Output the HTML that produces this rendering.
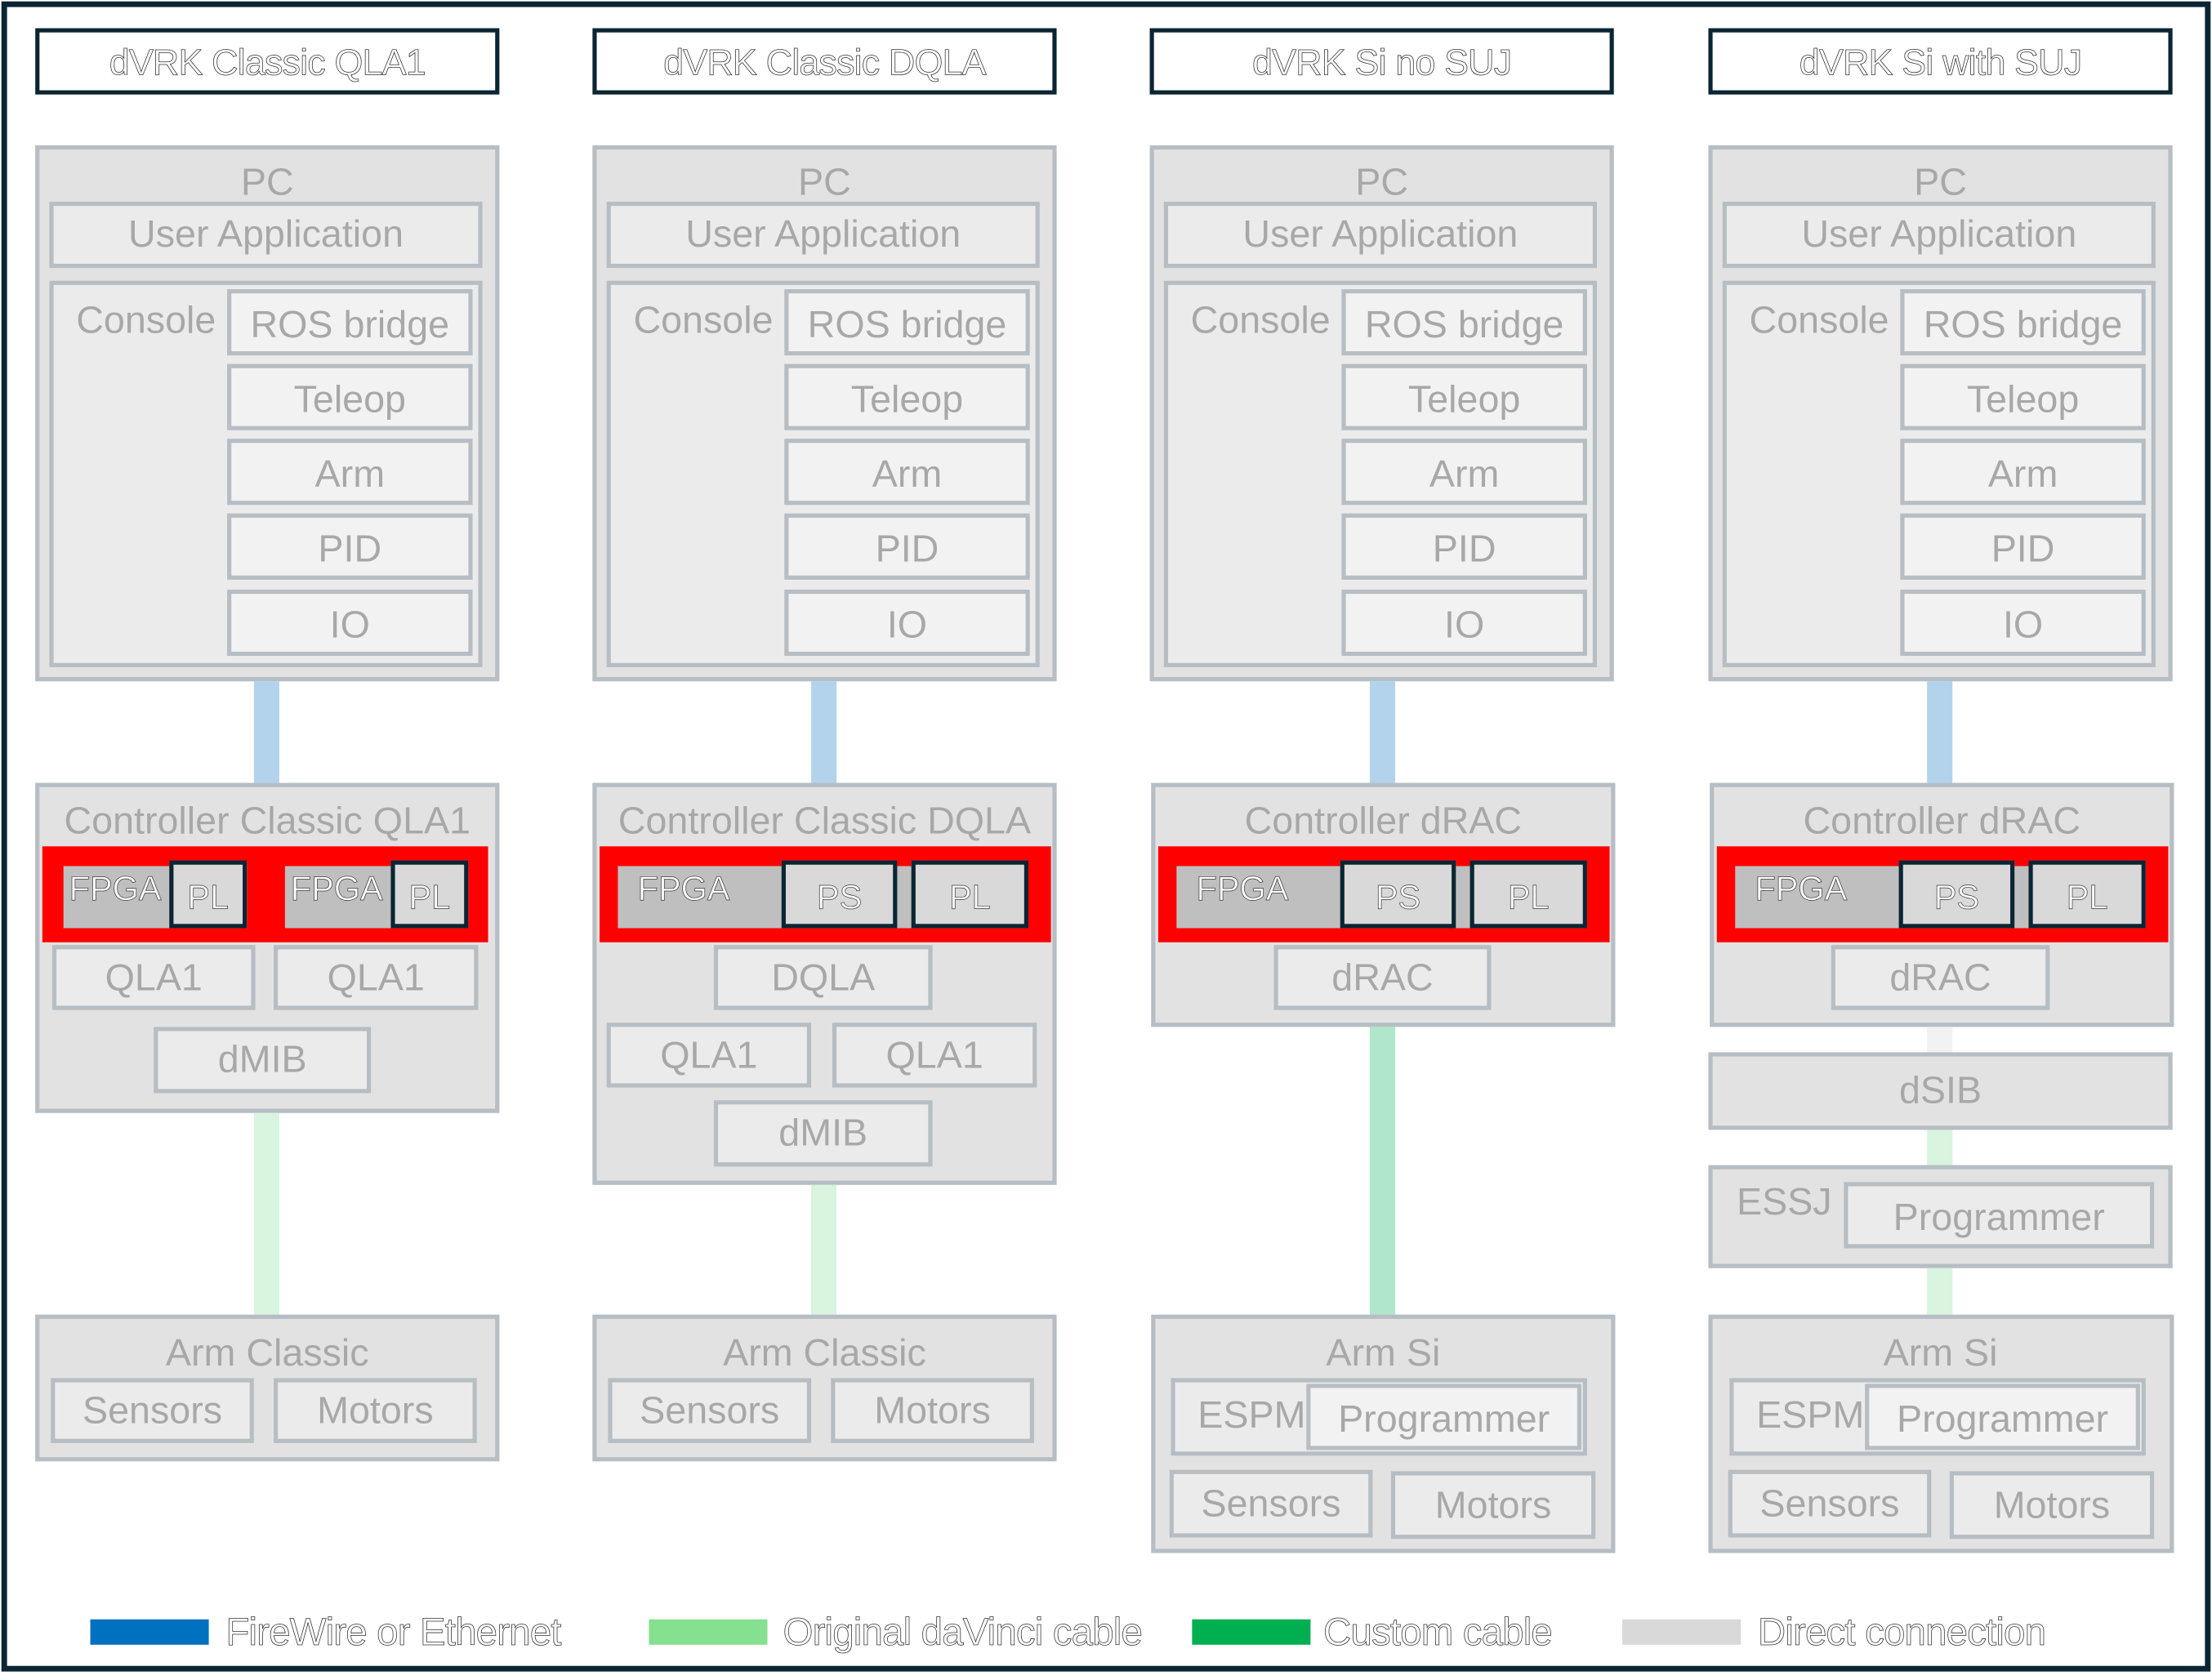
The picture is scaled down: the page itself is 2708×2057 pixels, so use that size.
<!DOCTYPE html>
<html><head><meta charset="utf-8"><style>
html,body{margin:0;padding:0;background:#fff;}
body{width:2708px;height:2057px;overflow:hidden;position:relative;}
#s{position:absolute;left:0;top:0;width:1568px;height:1191px;transform:scale(1.72704,1.72712);transform-origin:0 0;font-family:"Liberation Sans",sans-serif;}
#s div{position:absolute;box-sizing:border-box;}
.o{left:1px;top:1px;width:1566px;height:1184px;border:4px solid #0b2533;}
.c{width:329px;height:1100px;top:0;}
.t{border:3px solid #0b2533;background:#fff;display:flex;align-items:center;justify-content:center;font-size:26px;color:#fff;-webkit-text-stroke:0.45px #333;letter-spacing:-0.5px;padding-top:2px;}
.b{border:3px solid #b6bec4;display:flex;align-items:center;justify-content:center;color:#a8a8a8;font-size:27px;white-space:nowrap;}
.g1{background:#e2e2e2;}
.g2{background:#ebebeb;}
.g3{background:#f2f2f2;}
.l{color:#a8a8a8;font-size:27px;white-space:nowrap;line-height:1;}
.red{background:#ff0000;}
.fp{background:#bfbfbf;color:#fff;-webkit-text-stroke:0.4px #333;font-size:24px;line-height:1;padding:5px 0 0 4px;}
.pk{border:3px solid #0b2533;background:#d9d9d9;color:#fff;-webkit-text-stroke:0.4px #333;font-size:24px;display:flex;align-items:center;justify-content:center;padding-top:6px;}
.lg{height:18px;top:1148px;width:84px;}
.lt{top:1142px;font-size:27.5px;color:#fff;-webkit-text-stroke:0.45px #333;white-space:nowrap;line-height:1.1;letter-spacing:-0.5px;}
</style></head><body><div id="s">
<div class="o"></div>

<!-- Column 1 -->
<div class="c" style="left:25px">
 <div class="t" style="left:0;top:20px;width:329px;height:47px">dVRK Classic QLA1</div>
 <div class="b g1" style="left:0;top:103px;width:329px;height:380px"></div>
 <div class="l" style="left:0;width:329px;top:116px;text-align:center">PC</div>
 <div class="b g2" style="left:10px;top:143px;width:307px;height:47px">User Application</div>
 <div class="b g2" style="left:10px;top:199px;width:307px;height:274px"></div>
 <div class="l" style="left:29px;top:214px">Console</div>
 <div class="b g3" style="left:136px;top:205px;width:174px;height:47px;padding-top:4px">ROS bridge</div>
 <div class="b g3" style="left:136px;top:258px;width:174px;height:47px;padding-top:4px">Teleop</div>
 <div class="b g3" style="left:136px;top:311px;width:174px;height:47px;padding-top:4px">Arm</div>
 <div class="b g3" style="left:136px;top:364px;width:174px;height:47px;padding-top:4px">PID</div>
 <div class="b g3" style="left:136px;top:418px;width:174px;height:47px;padding-top:4px">IO</div>
 <div style="left:155px;top:483px;width:18px;height:72px;background:#b3d3ec"></div>
 <div class="b g1" style="left:0;top:555px;width:329px;height:234px"></div>
 <div class="l" style="left:0;width:329px;top:569px;text-align:center">Controller Classic QLA1</div>
 <div class="red" style="left:5px;top:600px;width:316px;height:68px"></div>
 <div class="fp" style="left:20px;top:614px;width:130px;height:44px">FPGA</div>
 <div class="pk" style="left:95px;top:610px;width:55px;height:48px">PL</div>
 <div class="fp" style="left:177px;top:614px;width:130px;height:44px">FPGA</div>
 <div class="pk" style="left:252px;top:610px;width:55px;height:48px">PL</div>
 <div class="b g2" style="left:12px;top:670px;width:144px;height:46px">QLA1</div>
 <div class="b g2" style="left:169px;top:670px;width:145px;height:46px">QLA1</div>
 <div class="b g2" style="left:84px;top:728px;width:154px;height:47px">dMIB</div>
 <div style="left:155px;top:789px;width:18px;height:143px;background:#d9f4df"></div>
 <div class="b g1" style="left:0;top:932px;width:329px;height:104px"></div>
 <div class="l" style="left:0;width:329px;top:946px;text-align:center">Arm Classic</div>
 <div class="b g2" style="left:11px;top:977px;width:144px;height:46px">Sensors</div>
 <div class="b g2" style="left:169px;top:977px;width:144px;height:46px">Motors</div>
</div>

<!-- Column 2 -->
<div class="c" style="left:420px">
 <div class="t" style="left:0;top:20px;width:329px;height:47px">dVRK Classic DQLA</div>
 <div class="b g1" style="left:0;top:103px;width:329px;height:380px"></div>
 <div class="l" style="left:0;width:329px;top:116px;text-align:center">PC</div>
 <div class="b g2" style="left:10px;top:143px;width:307px;height:47px">User Application</div>
 <div class="b g2" style="left:10px;top:199px;width:307px;height:274px"></div>
 <div class="l" style="left:29px;top:214px">Console</div>
 <div class="b g3" style="left:136px;top:205px;width:174px;height:47px;padding-top:4px">ROS bridge</div>
 <div class="b g3" style="left:136px;top:258px;width:174px;height:47px;padding-top:4px">Teleop</div>
 <div class="b g3" style="left:136px;top:311px;width:174px;height:47px;padding-top:4px">Arm</div>
 <div class="b g3" style="left:136px;top:364px;width:174px;height:47px;padding-top:4px">PID</div>
 <div class="b g3" style="left:136px;top:418px;width:174px;height:47px;padding-top:4px">IO</div>
 <div style="left:155px;top:483px;width:18px;height:72px;background:#b3d3ec"></div>
 <div class="b g1" style="left:0;top:555px;width:329px;height:285px"></div>
 <div class="l" style="left:0;width:329px;top:569px;text-align:center">Controller Classic DQLA</div>
 <div class="red" style="left:5px;top:600px;width:320px;height:68px"></div>
 <div class="fp" style="left:18px;top:614px;width:290px;height:44px;padding-left:14px">FPGA</div>
 <div class="pk" style="left:134px;top:610px;width:82px;height:48px">PS</div>
 <div class="pk" style="left:226px;top:610px;width:83px;height:48px">PL</div>
 <div class="b g2" style="left:86px;top:670px;width:155px;height:46px">DQLA</div>
 <div class="b g2" style="left:10px;top:725px;width:145px;height:46px">QLA1</div>
 <div class="b g2" style="left:170px;top:725px;width:145px;height:46px">QLA1</div>
 <div class="b g2" style="left:86px;top:780px;width:155px;height:47px">dMIB</div>
 <div style="left:155px;top:840px;width:18px;height:92px;background:#d9f4df"></div>
 <div class="b g1" style="left:0;top:932px;width:329px;height:104px"></div>
 <div class="l" style="left:0;width:329px;top:946px;text-align:center">Arm Classic</div>
 <div class="b g2" style="left:11px;top:977px;width:144px;height:46px">Sensors</div>
 <div class="b g2" style="left:169px;top:977px;width:144px;height:46px">Motors</div>
</div>

<!-- Column 3 -->
<div class="c" style="left:815px">
 <div class="t" style="left:0;top:20px;width:329px;height:47px">dVRK Si no SUJ</div>
 <div class="b g1" style="left:0;top:103px;width:329px;height:380px"></div>
 <div class="l" style="left:0;width:329px;top:116px;text-align:center">PC</div>
 <div class="b g2" style="left:10px;top:143px;width:307px;height:47px">User Application</div>
 <div class="b g2" style="left:10px;top:199px;width:307px;height:274px"></div>
 <div class="l" style="left:29px;top:214px">Console</div>
 <div class="b g3" style="left:136px;top:205px;width:174px;height:47px;padding-top:4px">ROS bridge</div>
 <div class="b g3" style="left:136px;top:258px;width:174px;height:47px;padding-top:4px">Teleop</div>
 <div class="b g3" style="left:136px;top:311px;width:174px;height:47px;padding-top:4px">Arm</div>
 <div class="b g3" style="left:136px;top:364px;width:174px;height:47px;padding-top:4px">PID</div>
 <div class="b g3" style="left:136px;top:418px;width:174px;height:47px;padding-top:4px">IO</div>
 <div style="left:156px;top:483px;width:18px;height:72px;background:#b3d3ec"></div>
 <div class="b g1" style="left:1px;top:555px;width:329px;height:173px"></div>
 <div class="l" style="left:1px;width:329px;top:569px;text-align:center">Controller dRAC</div>
 <div class="red" style="left:6px;top:600px;width:320px;height:68px"></div>
 <div class="fp" style="left:19px;top:614px;width:290px;height:44px;padding-left:14px">FPGA</div>
 <div class="pk" style="left:135px;top:610px;width:82px;height:48px">PS</div>
 <div class="pk" style="left:227px;top:610px;width:83px;height:48px">PL</div>
 <div class="b g2" style="left:88px;top:670px;width:154px;height:46px">dRAC</div>
 <div style="left:156px;top:728px;width:18px;height:204px;background:#b0e6cc"></div>
 <div class="b g1" style="left:1px;top:932px;width:329px;height:169px"></div>
 <div class="l" style="left:1px;width:329px;top:946px;text-align:center">Arm Si</div>
 <div class="b g2" style="left:15px;top:977px;width:295px;height:55px"></div>
 <div class="l" style="left:34px;top:990px">ESPM</div>
 <div class="b g3" style="left:111px;top:981px;width:195px;height:47px;padding-top:4px">Programmer</div>
 <div class="b g2" style="left:14px;top:1042px;width:144px;height:48px">Sensors</div>
 <div class="b g2" style="left:171px;top:1043px;width:145px;height:48px">Motors</div>
</div>

<!-- Column 4 -->
<div class="c" style="left:1211px">
 <div class="t" style="left:0;top:20px;width:329px;height:47px">dVRK Si with SUJ</div>
 <div class="b g1" style="left:0;top:103px;width:329px;height:380px"></div>
 <div class="l" style="left:0;width:329px;top:116px;text-align:center">PC</div>
 <div class="b g2" style="left:10px;top:143px;width:307px;height:47px">User Application</div>
 <div class="b g2" style="left:10px;top:199px;width:307px;height:274px"></div>
 <div class="l" style="left:29px;top:214px">Console</div>
 <div class="b g3" style="left:136px;top:205px;width:174px;height:47px;padding-top:4px">ROS bridge</div>
 <div class="b g3" style="left:136px;top:258px;width:174px;height:47px;padding-top:4px">Teleop</div>
 <div class="b g3" style="left:136px;top:311px;width:174px;height:47px;padding-top:4px">Arm</div>
 <div class="b g3" style="left:136px;top:364px;width:174px;height:47px;padding-top:4px">PID</div>
 <div class="b g3" style="left:136px;top:418px;width:174px;height:47px;padding-top:4px">IO</div>
 <div style="left:155px;top:483px;width:18px;height:72px;background:#b3d3ec"></div>
 <div class="b g1" style="left:1px;top:555px;width:329px;height:173px"></div>
 <div class="l" style="left:1px;width:329px;top:569px;text-align:center">Controller dRAC</div>
 <div class="red" style="left:6px;top:600px;width:320px;height:68px"></div>
 <div class="fp" style="left:19px;top:614px;width:290px;height:44px;padding-left:14px">FPGA</div>
 <div class="pk" style="left:135px;top:610px;width:82px;height:48px">PS</div>
 <div class="pk" style="left:227px;top:610px;width:83px;height:48px">PL</div>
 <div class="b g2" style="left:87px;top:670px;width:155px;height:46px">dRAC</div>
 <div style="left:155px;top:728px;width:18px;height:18px;background:#f2f2f2"></div>
 <div class="b g1" style="left:0;top:746px;width:329px;height:55px">dSIB</div>
 <div style="left:155px;top:801px;width:18px;height:25px;background:#d9f4df"></div>
 <div class="b g1" style="left:0;top:826px;width:329px;height:73px"></div>
 <div class="l" style="left:20px;top:839px">ESSJ</div>
 <div class="b g2" style="left:96px;top:838px;width:220px;height:47px;padding-top:4px">Programmer</div>
 <div style="left:155px;top:899px;width:18px;height:33px;background:#d9f4df"></div>
 <div class="b g1" style="left:0;top:932px;width:330px;height:169px"></div>
 <div class="l" style="left:0;width:329px;top:946px;text-align:center">Arm Si</div>
 <div class="b g2" style="left:15px;top:977px;width:295px;height:55px"></div>
 <div class="l" style="left:34px;top:990px">ESPM</div>
 <div class="b g3" style="left:111px;top:981px;width:195px;height:47px;padding-top:4px">Programmer</div>
 <div class="b g2" style="left:14px;top:1042px;width:144px;height:48px">Sensors</div>
 <div class="b g2" style="left:171px;top:1043px;width:145px;height:48px">Motors</div>
</div>

<!-- Legend -->
<div class="lg" style="left:64px;background:#0070c0"></div>
<div class="lt" style="left:160px">FireWire or Ethernet</div>
<div class="lg" style="left:460px;background:#85e08f"></div>
<div class="lt" style="left:555px">Original daVinci cable</div>
<div class="lg" style="left:845px;background:#00b050"></div>
<div class="lt" style="left:938px">Custom cable</div>
<div class="lg" style="left:1150px;background:#d9d9d9"></div>
<div class="lt" style="left:1246px">Direct connection</div>
</div></body></html>
